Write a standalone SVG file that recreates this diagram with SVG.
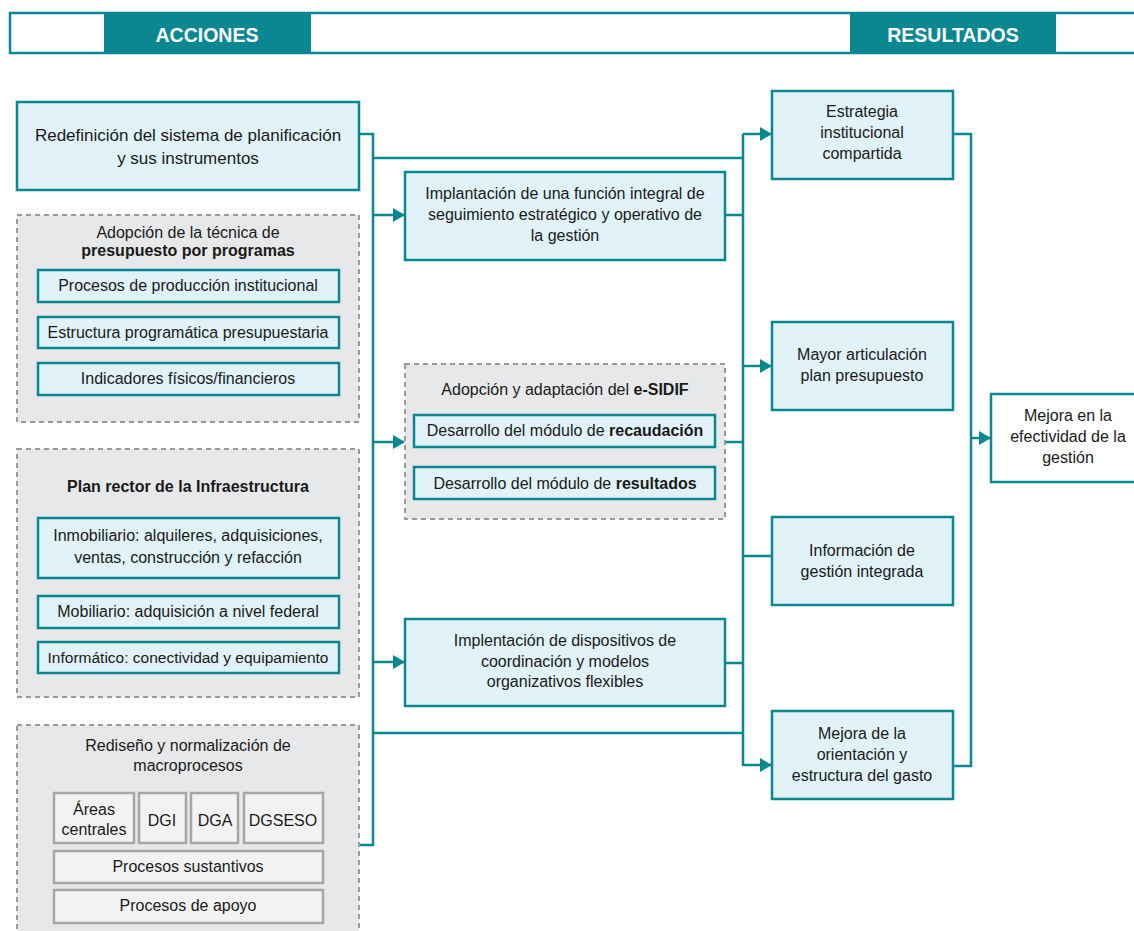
<svg xmlns="http://www.w3.org/2000/svg" width="1134" height="931" viewBox="0 0 1134 931">
<defs>
<marker id="arr" markerUnits="userSpaceOnUse" markerWidth="12" markerHeight="14" refX="11" refY="7" orient="auto">
<path d="M0,0 L12,7 L0,14 Z" fill="#0b8791"/>
</marker>
<style>
text{font-family:"Liberation Sans",Arial,sans-serif;font-size:16px;fill:#1a1a1a;text-anchor:middle}
.b{font-weight:bold}
.big{font-size:17px}
.hd{font-size:19.5px;font-weight:bold;fill:#ffffff}
.box{fill:#e1f2f9;stroke:#0b8791;stroke-width:2.5}
.wbox{fill:#ffffff;stroke:#0b8791;stroke-width:2.5}
.grp{fill:#e7e8ea;stroke:#9a9a9a;stroke-width:2;stroke-dasharray:5,4}
.gbox{fill:#f2f2f2;stroke:#a6a6a6;stroke-width:2.5}
.c{fill:none;stroke:#0b8791;stroke-width:2.5}
</style>
</defs>
<rect width="1134" height="931" fill="#ffffff"/>

<g id="header">
<rect x="10" y="13" width="1130" height="40" fill="#ffffff" stroke="#0b8791" stroke-width="2.5"/>
<rect x="104" y="13" width="207" height="40" fill="#0b8791"/>
<rect x="850" y="13" width="206" height="40" fill="#0b8791"/>
<text class="hd" x="207" y="42">ACCIONES</text>
<text class="hd" x="953" y="42">RESULTADOS</text>
</g>

<g id="connectors">
<path class="c" d="M359,134 H373 V845 H359"/>
<path class="c" d="M373,158 H743"/>
<path class="c" d="M373,215 H404" marker-end="url(#arr)"/>
<path class="c" d="M373,442 H404" marker-end="url(#arr)"/>
<path class="c" d="M373,662 H404" marker-end="url(#arr)"/>
<path class="c" d="M373,733 H743"/>
<path class="c" d="M725,215 H743"/>
<path class="c" d="M725,442 H743"/>
<path class="c" d="M725,663 H743"/>
<path class="c" d="M743,134 V766"/>
<path class="c" d="M743,134 H771" marker-end="url(#arr)"/>
<path class="c" d="M743,366 H771" marker-end="url(#arr)"/>
<path class="c" d="M743,556 H772"/>
<path class="c" d="M743,765 H771" marker-end="url(#arr)"/>
<path class="c" d="M953,134 H971 V766 H953"/>
<path class="c" d="M971,438 H990" marker-end="url(#arr)"/>
</g>

<g id="redefinicion">
<rect class="box" x="17" y="102" width="342" height="88"/>
<text class="big" x="188" y="141">Redefinición del sistema de planificación</text>
<text class="big" x="188" y="164">y sus instrumentos</text>
</g>

<g id="presupuesto">
<rect class="grp" x="17" y="215" width="342" height="207"/>
<text x="188" y="238">Adopción de la técnica de</text>
<text x="188" y="256" class="b">presupuesto por programas</text>
<rect class="box" x="38" y="270" width="301" height="32"/>
<text x="188" y="291">Procesos de producción institucional</text>
<rect class="box" x="38" y="317" width="301" height="31"/>
<text x="188" y="338">Estructura programática presupuestaria</text>
<rect class="box" x="38" y="363" width="301" height="32"/>
<text x="188" y="384">Indicadores físicos/financieros</text>
</g>

<g id="plan-rector">
<rect class="grp" x="17" y="449" width="342" height="248"/>
<text x="188" y="492" class="b">Plan rector de la Infraestructura</text>
<rect class="box" x="38" y="518" width="301" height="60"/>
<text x="188" y="541">Inmobiliario: alquileres, adquisiciones,</text>
<text x="188" y="563">ventas, construcción y refacción</text>
<rect class="box" x="38" y="596" width="301" height="32"/>
<text x="188" y="617">Mobiliario: adquisición a nivel federal</text>
<rect class="box" x="38" y="642" width="301" height="31"/>
<text x="188" y="663" style="font-size:15.5px">Informático: conectividad y equipamiento</text>
</g>

<g id="rediseno">
<rect class="grp" x="17" y="725" width="342" height="210"/>
<text x="188" y="751">Rediseño y normalización de</text>
<text x="188" y="771">macroprocesos</text>
<rect class="gbox" x="54" y="793" width="80" height="50"/>
<text x="94" y="815">Áreas</text>
<text x="94" y="835">centrales</text>
<rect class="gbox" x="139" y="793" width="47" height="50"/>
<text x="162" y="826">DGI</text>
<rect class="gbox" x="191" y="793" width="47" height="50"/>
<text x="215" y="826">DGA</text>
<rect class="gbox" x="244" y="793" width="79" height="50"/>
<text x="283" y="826">DGSESO</text>
<rect class="gbox" x="54" y="851" width="269" height="32"/>
<text x="188" y="872">Procesos sustantivos</text>
<rect class="gbox" x="54" y="890" width="269" height="33"/>
<text x="188" y="911">Procesos de apoyo</text>
</g>

<g id="implantacion">
<rect class="box" x="405" y="172" width="320" height="88"/>
<text x="565" y="199">Implantación de una función integral de</text>
<text x="565" y="220">seguimiento estratégico y operativo de</text>
<text x="565" y="241">la gestión</text>
</g>

<g id="esidif">
<rect class="grp" x="405" y="364" width="320" height="155"/>
<text x="565" y="395">Adopción y adaptación del <tspan class="b">e-SIDIF</tspan></text>
<rect class="box" x="414" y="415" width="301" height="32"/>
<text x="565" y="436">Desarrollo del módulo de <tspan class="b">recaudación</tspan></text>
<rect class="box" x="414" y="467" width="301" height="32"/>
<text x="565" y="489">Desarrollo del módulo de <tspan class="b">resultados</tspan></text>
</g>

<g id="implentacion">
<rect class="box" x="405" y="619" width="320" height="87"/>
<text x="565" y="646">Implentación de dispositivos de</text>
<text x="565" y="667">coordinación y modelos</text>
<text x="565" y="687">organizativos flexibles</text>
</g>

<g id="estrategia">
<rect class="box" x="772" y="91" width="181" height="88"/>
<text x="862" y="117">Estrategia</text>
<text x="862" y="138">institucional</text>
<text x="862" y="159">compartida</text>
</g>

<g id="articulacion">
<rect class="box" x="772" y="322" width="181" height="88"/>
<text x="862" y="360">Mayor articulación</text>
<text x="862" y="381">plan presupuesto</text>
</g>

<g id="informacion">
<rect class="box" x="772" y="517" width="181" height="88"/>
<text x="862" y="556">Información de</text>
<text x="862" y="577">gestión integrada</text>
</g>

<g id="orientacion">
<rect class="box" x="772" y="711" width="181" height="88"/>
<text x="862" y="739">Mejora de la</text>
<text x="862" y="760">orientación y</text>
<text x="862" y="781">estructura del gasto</text>
</g>

<g id="efectividad">
<rect class="wbox" x="991" y="394" width="150" height="88"/>
<text x="1068" y="421">Mejora en la</text>
<text x="1068" y="442">efectividad de la</text>
<text x="1068" y="463">gestión</text>
</g>
</svg>
